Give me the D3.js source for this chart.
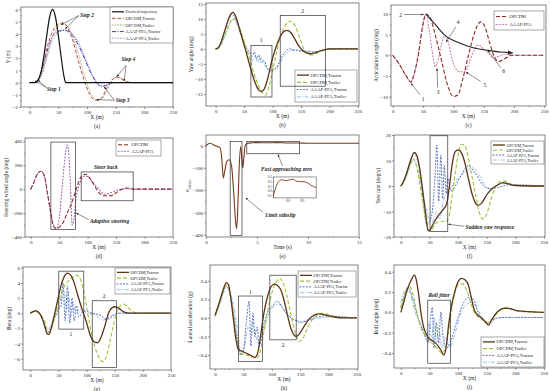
<!DOCTYPE html>
<html><head><meta charset="utf-8">
<script src="https://cdn.jsdelivr.net/npm/d3@7"></script>
<style>body{margin:0;background:#fff}svg{display:block}text{font-family:"Liberation Serif","Times New Roman",serif;fill:#222}</style>
</head><body><svg id="c" width="550" height="391"></svg>
<script>
// ---------------- DATA ----------------
const xTicksM = [0,50,100,150,200,250];
// (a) lateral position
const aDesired = [[0,0],[10,0],[15,0.2],[20,0.9],[25,2.2],[30,3.9],[35,5.4],[40,6],[45,5.4],[50,3.9],[55,2.1],[60,0.5],[63,0],[250,0]];
const aOpcdmTractor = [[0,0],[10,0.05],[20,0.8],[30,2.8],[40,4.2],[50,4.8],[58,4.9],[65,4.6],[75,3.5],[85,1.8],[95,0.2],[105,-1],[115,-1.45],[125,-1.3],[135,-0.4],[145,0.3],[152,0.45],[160,0.3],[170,0.05],[180,0],[250,0]];
const aOpcdmTrailer = [[0,0],[10,0.02],[20,0.5],[30,2.2],[40,3.8],[50,4.6],[58,4.8],[66,4.6],[76,3.7],[86,2.2],[96,0.5],[106,-0.8],[116,-1.4],[126,-1.3],[136,-0.5],[146,0.3],[154,0.5],[162,0.3],[172,0.05],[182,0],[250,0]];
const aAaapTractor = [[0,0],[10,0.05],[20,0.8],[30,2.5],[40,3.8],[50,4.2],[60,4.3],[70,4.1],[80,3.5],[90,2.6],[100,1.5],[110,0.5],[118,-0.1],[126,-0.3],[135,-0.2],[145,0],[250,0]];
const aAaapTrailer = [[0,0],[10,0.02],[20,0.5],[30,2],[40,3.5],[50,4.1],[60,4.3],[70,4.2],[80,3.7],[90,2.8],[100,1.7],[110,0.6],[120,-0.1],[128,-0.3],[138,-0.15],[150,0],[250,0]];
// (b) yaw angle
const bOpcdmTractor = [[0,0],[5,0.5],[10,2.5],[15,5.5],[20,8.5],[25,11],[30,12.2],[35,11],[40,8],[45,4.5],[52,0],[60,-5.5],[68,-10.5],[75,-13.5],[80,-14.2],[85,-13.5],[92,-9.5],[98,-4.5],[105,0],[112,3.5],[118,5.5],[125,6.2],[132,5.5],[140,3],[148,0.5],[155,-0.8],[165,-1.6],[175,-1.3],[185,-0.6],[200,0],[250,0]];
const bOpcdmTrailer = [[0,0],[5,0.3],[10,1.8],[15,4],[20,6.5],[25,8.8],[30,10],[35,9.8],[40,8],[45,5.5],[52,1.5],[60,-3.5],[68,-8.5],[76,-12.5],[82,-14.6],[88,-15.3],[93,-13],[100,-7.5],[106,-2],[112,3],[120,7],[128,9],[133,9.2],[140,7.5],[148,3.5],[155,0],[162,-1.5],[170,-2],[178,-1.4],[190,-0.4],[205,0],[250,0]];
const bAaapTractor = [[0,0],[5,0.5],[10,2.3],[15,5.2],[20,8.3],[25,10.8],[29,11.6],[35,10],[45,5],[55,0],[60,-1],[64,-2.5],[68,-1],[72,-3.5],[76,-2],[80,-4.5],[85,-4],[90,-6],[95,-7.5],[100,-7],[108,-5.8],[115,-3],[122,-1],[130,0],[140,-0.3],[160,-1],[180,-0.8],[200,0],[250,0]];
const bAaapTrailer = [[0,0],[5,0.3],[10,1.5],[20,6],[26,8.8],[32,9.8],[42,6],[52,1],[62,-3],[66,-4],[70,-2.5],[74,-4.5],[78,-2.5],[85,-5],[95,-7],[105,-7],[112,-5],[122,-2],[135,-0.5],[150,-0.5],[175,-1],[200,0],[250,0]];
// (c) articulation angle
const cOpcdm = [[0,0],[10,-2],[20,-4.5],[30,-6.5],[36,-4],[42,0],[48,6],[55,10],[62,9],[70,5],[80,-1],[90,-7],[100,-10],[108,-9.5],[115,-6],[125,0],[135,5.5],[145,8.1],[152,7],[160,3],[168,-0.5],[175,-1.5],[185,-0.8],[195,0],[250,0]];
const cAaap = [[0,0],[10,-2],[20,-4.5],[30,-6.3],[38,-3],[45,3],[50,8],[55,10],[60,6],[65,1],[70,-2.8],[75,-1],[80,2.5],[86,4.8],[92,3],[98,-1],[105,-3.5],[112,-4],[120,-3.8],[128,-1],[135,1.5],[142,2.5],[150,1.5],[158,0.5],[165,-0.5],[175,-0.3],[185,0.2],[200,0],[250,0]];
const cTrendArrow = [[55,10],[70,7.5],[88,4.6],[105,3.3],[121,2.4],[140,1.6],[157,1.2],[178,0.8],[198,0.6]];
// (d) steering wheel angle
const dOpcdm = [[0,0],[5,50],[12,130],[18,150],[24,110],[30,-50],[35,-190],[40,-310],[46,-330],[52,-310],[58,-270],[64,-200],[70,-140],[76,-60],[82,30],[88,100],[96,125],[104,90],[112,30],[120,-30],[130,-55],[140,-55],[150,-30],[160,0],[170,10],[180,0],[250,0]];
const dAaap = [[0,0],[5,50],[12,130],[18,150],[24,110],[30,-50],[35,-190],[40,-300],[45,-330],[50,-250],[55,0],[60,250],[64,370],[67,300],[70,0],[73,-300],[76,-250],[79,-100],[83,0],[88,70],[95,110],[102,100],[110,50],[118,10],[125,-30],[132,-42],[140,-30],[150,-10],[160,0],[170,5],[180,0],[250,0]];
// (e) offset vs time
const eOffset = [[0,0],[0.4,10],[0.9,-1],[1.4,-12],[1.55,-60],[1.7,-146],[1.85,-110],[2.05,-70],[2.27,-64],[2.5,-90],[2.7,-200],[2.9,-340],[3.0,-373],[3.1,-300],[3.25,-100],[3.4,-5],[3.5,-50],[3.6,-101],[3.7,-60],[3.85,0],[4.1,10],[4.5,12],[5,13],[6,12],[7,13],[8,11],[9,11],[10,10],[12,10],[15,10]];
const eInset = [[4,-0.1],[4.3,0.05],[4.7,0.2],[5.2,0.24],[5.8,0.22],[6.3,0.24],[6.8,0.25],[7.2,0.21],[7.8,0.2],[8.3,0.2],[8.8,0.17],[9.3,0.12],[10,0.07]];
// (f) yaw rate
const fOpcdmTractor = [[0,0],[5,2],[10,5],[17,10],[23.5,13.2],[28,12],[32,8],[36,2],[40,-5],[44,-12],[47,-17],[50,-17.6],[54,-16],[60,-13.5],[66,-11.5],[74,-9.2],[80,-7],[85,0],[90,9],[95,13.5],[100,14.2],[106,13],[112,9],[118,3],[125,-3.5],[130,-6.5],[135,-7.6],[142,-6.5],[150,-3.5],[160,-1],[170,0.5],[179,1.3],[188,0.8],[200,0.2],[250,0]];
const fOpcdmTrailer = [[0,0],[5,1.5],[10,4],[15,7.5],[21,10.8],[26,9],[30,5],[35,-2],[40,-9],[45,-15],[49,-17.4],[54,-17],[60,-15],[66,-14],[72,-13.8],[78,-14],[84,-12],[90,-3],[95,5],[100,12],[106,16.4],[112,15.8],[118,11],[125,3],[132,-5],[138,-11],[144,-12.9],[150,-11],[158,-5],[165,-0.5],[172,1.5],[180,2],[190,1],[205,0.2],[250,0]];
const fAaapTractor = [[0,0],[5,2],[10,5],[17,10],[23,12.8],[28,11],[33,6],[38,-3],[45,-15],[50,-14],[55,-10],[60,5],[63,16],[66,-6],[70,12],[73,-5],[76,8],[79,-3],[82,3],[88,-2],[95,0],[105,4],[118,7.9],[130,5],[145,0],[155,-1],[170,-0.5],[190,0.5],[250,0]];
const fAaapTrailer = [[0,0],[5,1.5],[10,4],[16,8],[22,10],[30,6],[40,-5],[48,-12],[55,-14],[62,-10],[68,-13],[74,-6],[80,-3],[90,0],[100,3],[115,6],[126,7.2],[135,5],[145,1],[155,-1],[165,0],[180,1],[195,0.3],[250,0]];
// (g) beta
const gOpcdmTractor = [[0,0],[5,0.2],[10,0.3],[15,0.1],[20,-0.5],[25,-1.5],[30,-2.7],[33,-2.8],[37,-2],[42,-0.5],[48,1.5],[54,3.5],[60,4.8],[66,5.3],[72,5],[78,4],[85,2.2],[92,0.5],[99,-1],[106,-2.8],[112,-3.7],[119,-3.9],[125,-3.3],[132,-1.8],[139,0],[145,0.7],[151,0.85],[158,0.6],[165,0.2],[175,0],[250,0]];
const gOpcdmTrailer = [[0,0],[5,0.15],[10,0.2],[15,0.05],[20,-0.3],[25,-1],[30,-2.2],[34,-2.5],[40,-1.5],[46,0.2],[52,2],[60,3.5],[68,4.3],[76,4.8],[84,5],[90,4.3],[96,2.5],[102,0],[108,-2.5],[115,-4.5],[122,-5.8],[129,-6.4],[136,-5.5],[142,-3.5],[148,-1.5],[154,0.2],[160,1],[166,1.2],[172,0.9],[180,0.3],[190,0],[250,0]];
const gAaapTractor = [[0,0],[5,0.2],[10,0.3],[20,-0.5],[30,-2.5],[35,-2.3],[42,-0.8],[50,0.5],[55,1],[58,4],[62,-1],[66,3.6],[70,-1.3],[74,2],[78,-1],[82,1],[86,-0.5],[95,0.3],[110,0],[125,-0.3],[135,-0.8],[145,-0.5],[155,0],[250,0]];
const gAaapTrailer = [[0,0],[10,0.3],[20,-0.4],[30,-2.3],[40,-1],[50,0.5],[56,2.5],[60,3],[64,0.5],[68,2.8],[72,-0.5],[76,1.5],[80,0],[88,0.5],[100,0],[115,-0.2],[130,-0.9],[145,-0.3],[160,0],[250,0]];
// (h) lateral acceleration
const hOpcdmTractor = [[0,0.03],[5,0.12],[10,0.22],[15,0.32],[20,0.38],[24,0.35],[28,0.2],[32,0],[36,-0.2],[41,-0.34],[48,-0.36],[55,-0.38],[62,-0.4],[70,-0.425],[75,-0.38],[80,-0.2],[86,0.05],[92,0.22],[98,0.33],[104,0.364],[110,0.35],[116,0.3],[122,0.18],[128,0.02],[134,-0.12],[140,-0.19],[143,-0.2],[150,-0.16],[158,-0.08],[166,-0.01],[175,0.03],[184,0.043],[195,0.03],[210,0.01],[225,0],[250,0]];
const hOpcdmTrailer = [[0,0.02],[5,0.1],[10,0.2],[15,0.3],[20,0.35],[25,0.3],[30,0.12],[35,-0.1],[40,-0.28],[45,-0.38],[55,-0.4],[65,-0.42],[75,-0.43],[80,-0.35],[86,-0.15],[92,0.05],[98,0.22],[104,0.34],[110,0.41],[114,0.425],[120,0.38],[126,0.25],[132,0.08],[138,-0.08],[144,-0.2],[149,-0.254],[155,-0.22],[162,-0.12],[170,-0.03],[180,0.03],[190,0.05],[200,0.035],[215,0.01],[230,0],[250,0]];
const hAaapTractor = [[0,0.02],[10,0.2],[20,0.35],[30,0.15],[40,-0.25],[45,-0.4],[50,-0.35],[55,-0.05],[60,0.18],[63,-0.3],[67,0.05],[70,-0.2],[74,-0.1],[78,-0.3],[85,-0.1],[92,0.05],[100,0.12],[110,0.18],[120,0.1],[130,0.02],[140,-0.02],[150,-0.05],[165,-0.02],[190,0.02],[250,0]];
const hAaapTrailer = [[0,0.02],[10,0.18],[20,0.33],[30,0.2],[40,-0.15],[45,-0.38],[52,-0.3],[58,-0.1],[62,-0.15],[66,-0.05],[72,-0.2],[78,-0.28],[85,-0.15],[92,0],[100,0.1],[112,0.15],[125,0.05],[140,-0.02],[155,-0.04],[170,-0.02],[200,0.01],[250,0]];
// (i) roll angle
const iOpcdmTractor = [[0,0],[5,0.1],[10,0.2],[15,0.28],[20,0.34],[23.5,0.367],[27,0.32],[31,0.18],[35,0],[40,-0.15],[45,-0.22],[50,-0.26],[55,-0.28],[60,-0.3],[65,-0.33],[70,-0.37],[75,-0.42],[79,-0.35],[83,-0.15],[88,0.05],[94,0.2],[100,0.3],[106,0.334],[112,0.32],[118,0.27],[123,0.15],[128,0.03],[135,-0.03],[140,-0.05],[147,-0.09],[153,-0.125],[158,-0.08],[165,-0.02],[172,0.02],[180,0.04],[188,0.04],[200,0.02],[215,0.01],[250,0]];
const iOpcdmTrailer = [[0,0.05],[5,0.15],[10,0.22],[15,0.26],[20,0.2],[25,0.08],[30,-0.05],[35,-0.15],[42,-0.22],[50,-0.28],[58,-0.32],[65,-0.36],[72,-0.4],[78,-0.36],[83,-0.2],[88,0],[94,0.18],[100,0.27],[108,0.28],[115,0.22],[122,0.1],[128,0],[135,-0.04],[145,-0.08],[152,-0.1],[160,-0.06],[168,-0.01],[176,0.03],[185,0.05],[195,0.03],[210,0.01],[250,0]];
const iAaapTractor = [[0,0.05],[8,0.2],[12,0.25],[20,0.15],[30,-0.05],[40,-0.2],[48,-0.3],[52,-0.05],[55,0.05],[58,-0.35],[62,-0.1],[66,-0.3],[70,0],[74,-0.25],[80,-0.35],[86,-0.3],[92,-0.2],[100,-0.05],[110,0.1],[120,0.15],[128,0.12],[135,0],[145,-0.08],[155,-0.1],[165,-0.06],[180,-0.05],[250,-0.05]];
const iAaapTrailer = [[0,0.1],[8,0.22],[15,0.2],[25,0],[35,-0.12],[45,-0.25],[50,-0.1],[54,-0.28],[58,-0.05],[62,-0.3],[66,-0.15],[72,-0.35],[78,-0.25],[85,-0.35],[95,-0.2],[105,0],[115,0.08],[125,0.1],[135,0.02],[145,-0.07],[155,-0.12],[165,-0.06],[180,-0.05],[250,-0.05]];

// ---------------- STYLES ----------------
const S = {
  tracSolid:{c:"#5e3317",w:1.3,d:null},
  trailDash:{c:"#9cc43c",w:1.1,d:"4,2"},
  aTracDot:{c:"#4a62b8",w:1,d:"1,2.2"},
  aTrailDD:{c:"#8ab8e2",w:0.9,d:"4,1.4,1,1.4"},
  desired:{c:"#111",w:1.2,d:null},
  redDash:{c:"#c24a3c",w:1,d:"3.5,2"},
  greyDot:{c:"#a7ae8c",w:1,d:"1,1.8"},
  blueDD:{c:"#3a3ab4",w:1,d:"4,1.4,1,1.4"},
  lilacDot:{c:"#a89ccf",w:1,d:"1,1.8"},
  darkRedDash:{c:"#8e2c25",w:1.1,d:"4,2"},
  pinkDot:{c:"#c47ab3",w:1.1,d:"1,2.2"},
  purpleDot:{c:"#9a65b0",w:1.1,d:"1,2.2"},
  eLine:{c:"#7a3a1c",w:1.1,d:null}
};
const L4 = ["OPCDM,Tractor","OPCDM,Trailer","AAAP-PFA,Tractor","AAAP-PFA,Trailer"];

const svg = d3.select("#c");
const defs = svg.append("defs");
defs.append("marker").attr("id","arr").attr("viewBox","0 0 10 10").attr("refX",9).attr("refY",5)
  .attr("markerWidth",5).attr("markerHeight",5).attr("orient","auto")
  .append("path").attr("d","M0,1L10,5L0,9z").attr("fill","#222");

function panel(o){
  const x = d3.scaleLinear().domain(o.xd).range([o.l,o.r]);
  const y = d3.scaleLinear().domain(o.yd).range([o.b,o.t]);
  const g = svg.append("g");
  const cid = "clip"+o.tag;
  defs.append("clipPath").attr("id",cid).append("rect")
    .attr("x",o.l).attr("y",o.t).attr("width",o.r-o.l).attr("height",o.b-o.t);
  const fs = o.fs||5;
  const ax = g.append("g").attr("transform",`translate(0,${o.b})`)
    .call(d3.axisBottom(x).tickValues(o.xt).tickSize(2).tickPadding(1).tickFormat(o.xf||d3.format("d")));
  const ay = g.append("g").attr("transform",`translate(${o.l},0)`)
    .call(d3.axisLeft(y).tickValues(o.yt).tickSize(2).tickPadding(1).tickFormat(o.yf||d3.format("d")));
  [ax,ay].forEach(a=>{a.select(".domain").remove();
    a.selectAll("line").attr("stroke","#333").attr("stroke-width",0.5);
    a.selectAll("text").attr("font-size",fs).attr("font-family","Liberation Serif").attr("fill","#222");});
  if(!o.noMinor){
    const mx=[]; for(let i=0;i<o.xt.length-1;i++) mx.push((o.xt[i]+o.xt[i+1])/2);
    const my=[]; for(let i=0;i<o.yt.length-1;i++) my.push((o.yt[i]+o.yt[i+1])/2);
    g.selectAll(null).data(mx).join("line").attr("x1",d=>x(d)).attr("x2",d=>x(d)).attr("y1",o.b).attr("y2",o.b+1).attr("stroke","#333").attr("stroke-width",0.4);
    g.selectAll(null).data(my).join("line").attr("y1",d=>y(d)).attr("y2",d=>y(d)).attr("x1",o.l).attr("x2",o.l-1).attr("stroke","#333").attr("stroke-width",0.4);
  }
  g.append("rect").attr("x",o.l).attr("y",o.t).attr("width",o.r-o.l).attr("height",o.b-o.t)
    .attr("fill","none").attr("stroke","#333").attr("stroke-width",0.6);
  const line = d3.line().x(d=>x(d[0])).y(d=>y(d[1])).curve(d3.curveMonotoneX);
  const sg = g.append("g").attr("clip-path",`url(#${cid})`);
  o.series.forEach(s=>{
    sg.append("path").attr("d",line(s.data)).attr("fill","none").attr("stroke",s.st.c)
      .attr("stroke-width",s.st.w).attr("stroke-dasharray",s.st.d).attr("stroke-linecap",s.st.d&&s.st.d.startsWith("1,")?"round":"butt")
      .attr("stroke-linejoin","round");
  });
  const cx=(o.l+o.r)/2;
  g.append("text").attr("x",cx).attr("y",o.b+12).attr("text-anchor","middle").attr("font-size",5.5).text(o.xlab);
  g.append("text").attr("x",cx).attr("y",o.b+20.5).attr("text-anchor","middle").attr("font-size",5.5).text("("+o.tag+")");
  const yl = g.append("text").attr("transform",`translate(${o.l-o.yo},${(o.t+o.b)/2}) rotate(-90)`)
    .attr("text-anchor","middle").attr("font-size",5.5);
  if(o.ylabSub){ yl.text(o.ylab).append("tspan").attr("dy",1.5).attr("font-size",4).text(o.ylabSub);} else yl.text(o.ylab);
  if(o.legend){
    const lg=o.legend, n=lg.items.length, lh=(lg.h-3)/n;
    g.append("rect").attr("x",lg.x).attr("y",lg.y).attr("width",lg.w).attr("height",lg.h)
      .attr("fill","#fff").attr("stroke","#555").attr("stroke-width",0.5);
    lg.items.forEach((it,i)=>{
      const yy=lg.y+1.5+lh*(i+0.5);
      g.append("line").attr("x1",lg.x+2).attr("x2",lg.x+14).attr("y1",yy).attr("y2",yy)
        .attr("stroke",it.st.c).attr("stroke-width",it.st.w).attr("stroke-dasharray",it.st.d)
        .attr("stroke-linecap",it.st.d&&it.st.d.startsWith("1,")?"round":"butt");
      g.append("text").attr("x",lg.x+15.5).attr("y",yy+1.6).attr("font-size",lg.fs||4.6).text(it.label);
    });
  }
  return {x,y,g};
}
function box(p,x0,x1,y0,y1){
  p.g.append("rect").attr("x",p.x(x0)).attr("y",p.y(y0)).attr("width",p.x(x1)-p.x(x0)).attr("height",p.y(y1)-p.y(y0))
    .attr("fill","none").attr("stroke","#333").attr("stroke-width",0.7);
}
function txt(p,x,y,t,opt={}){
  p.g.append("text").attr("x",p.x(x)).attr("y",p.y(y)).attr("text-anchor",opt.a||"middle")
    .attr("font-size",opt.fs||5.5).attr("font-weight",opt.b?"bold":null).attr("font-style",opt.b?"italic":null).text(t);
}
function arrow(p,x0,y0,x1,y1){
  p.g.append("line").attr("x1",p.x(x0)).attr("y1",p.y(y0)).attr("x2",p.x(x1)).attr("y2",p.y(y1))
    .attr("stroke","#222").attr("stroke-width",0.5).attr("marker-end","url(#arr)");
}
const items4 = [S.tracSolid,S.trailDash,S.aTracDot,S.aTrailDD].map((st,i)=>({st,label:L4[i]}));

// (a)
const pa = panel({tag:"a",l:21,t:7,r:173,b:107,xd:[-15,250],yd:[-2,6.2],xt:xTicksM,yt:[-2,-1,0,1,2,3,4,5,6],
  xlab:"X (m)",ylab:"Y (m)",yo:11,
  series:[{data:aAaapTrailer,st:S.lilacDot},{data:aAaapTractor,st:S.blueDD},{data:aOpcdmTrailer,st:S.greyDot},{data:aOpcdmTractor,st:S.redDash},{data:aDesired,st:S.desired}],
  legend:{x:110,y:7,w:63,h:36,fs:4.4,items:[{st:S.desired,label:"Desired trajectory"},{st:S.redDash,label:"OPCDM,Tractor"},{st:S.greyDot,label:"OPCDM,Trailer"},{st:S.blueDD,label:"AAAP-PFA,Tractor"},{st:S.lilacDot,label:"AAAP-PFA,Trailer"}]}});
txt(pa,30,-0.7,"Step 1",{b:1,a:"start"}); arrow(pa,29,-0.4,10,0.15); arrow(pa,29,-0.4,15,0.2);
txt(pa,88,5.4,"Step 2",{b:1,a:"start"}); arrow(pa,86,5.5,55,4.75); arrow(pa,86,5.5,62,4.4);
txt(pa,150,-1.6,"Step 3",{b:1,a:"start"}); arrow(pa,148,-1.45,117,-1.4); arrow(pa,148,-1.45,130,-0.35);
txt(pa,160,1.8,"Step 4",{b:1,a:"start"}); arrow(pa,168,1.4,152,0.5); arrow(pa,168,1.4,165,0.15);

// (b)
const pb = panel({tag:"b",l:206,t:3,r:359,b:106,xd:[-17,252],yd:[-19,15.3],xt:xTicksM,yt:[-15,-10,-5,0,5,10,15],
  xlab:"X (m)",ylab:"Yaw angle (deg)",yo:13,
  series:[{data:bAaapTrailer,st:S.aTrailDD},{data:bAaapTractor,st:S.aTracDot},{data:bOpcdmTrailer,st:S.trailDash},{data:bOpcdmTractor,st:S.tracSolid}],
  legend:{x:295,y:70,w:62,h:32,items:items4}});
box(pb,62,99,1.2,-16); txt(pb,80,2.2,"1");
box(pb,113.5,193,11.1,-12.4); txt(pb,153,12.1,"2");

// (c)
const pc = panel({tag:"c",l:391,t:5,r:546,b:106,xd:[-3,253],yd:[-12.3,12.2],xt:xTicksM,yt:[-10,-5,0,5,10],
  xlab:"X (m)",ylab:"Articulation angle (deg)",yo:13,
  series:[{data:cAaap,st:S.pinkDot},{data:cOpcdm,st:S.darkRedDash}],
  legend:{x:494,y:11,w:50,h:19,items:[{st:S.darkRedDash,label:"OPCDM"},{st:S.pinkDot,label:"AAAP-PFA"}]}});
pc.g.append("path").attr("d",d3.line().x(d=>pc.x(d[0])).y(d=>pc.y(d[1])).curve(d3.curveMonotoneX)(cTrendArrow))
  .attr("fill","none").attr("stroke","#222").attr("stroke-width",1.1).attr("marker-end","url(#arr)");
txt(pc,50,-11,"1"); arrow(pc,45,-9.6,30,-6.8);
txt(pc,13,9.3,"2"); arrow(pc,19,9.9,51,9.9);
txt(pc,75,-9.3,"3"); arrow(pc,74,-7.8,73,-3.2);
txt(pc,108,7.6,"4"); arrow(pc,104,6.9,88,3.2);
txt(pc,152,-7.6,"5"); arrow(pc,145,-6.3,121,-4.1);
txt(pc,183,-4.4,"6"); arrow(pc,178,-3,157,1.2);

// (d)
const pd = panel({tag:"d",l:25,t:138,r:173,b:237,xd:[-10,250],yd:[-400,428],xt:xTicksM,yt:[-400,-200,0,200,400],
  xlab:"X (m)",ylab:"Steering wheel angle (deg)",yo:17,
  series:[{data:dAaap,st:S.purpleDot},{data:dOpcdm,st:S.darkRedDash}],
  legend:{x:116,y:140,w:45,h:16,items:[{st:S.darkRedDash,label:"OPCDM"},{st:S.purpleDot,label:"AAAP-PFA"}]}});
box(pd,88.7,180,144,-97); txt(pd,132,170,"Steer back",{b:1});
box(pd,35.5,78.7,394,-336); txt(pd,104,-285,"Adaptive steering",{b:1,a:"start"}); arrow(pd,102,-255,80,-200);

// (e)
const pe = panel({tag:"e",l:206,t:135,r:359,b:237,xd:[0,15],yd:[-410,47],xt:[0,5,10,15],yt:[-400,-300,-200,-100,0],
  xlab:"Time (s)",ylab:"e",ylabSub:"offset",yo:17,
  series:[{data:eOffset,st:S.eLine}]});
box(pe,2.37,3.53,18,-403); txt(pe,5.8,-322,"Limit sideslip",{b:1,a:"start"}); arrow(pe,5.6,-300,3.9,-235);
box(pe,4,9.17,18,-37); txt(pe,5.4,-113,"Fast approaching zero",{b:1,a:"start"}); arrow(pe,7.5,-92,7.06,-40);
const ix = d3.scaleLinear().domain([4,10]).range([pe.x(6.6),pe.x(10.8)]);
const iy = d3.scaleLinear().domain([-0.15,0.3]).range([pe.y(-235),pe.y(-141)]);
const ig = pe.g.append("g");
ig.append("rect").attr("x",ix(4)).attr("y",iy(0.3)).attr("width",ix(10)-ix(4)).attr("height",iy(-0.15)-iy(0.3)).attr("fill","#fff").attr("stroke","#333").attr("stroke-width",0.5);
ig.append("path").attr("d",d3.line().x(d=>ix(d[0])).y(d=>iy(d[1])).curve(d3.curveMonotoneX)(eInset)).attr("fill","none").attr("stroke",S.eLine.c).attr("stroke-width",0.9);
const iax=ig.append("g").attr("transform",`translate(0,${iy(-0.15)})`).call(d3.axisBottom(ix).tickValues([6,8]).tickSize(1).tickPadding(0.5));
const iay=ig.append("g").attr("transform",`translate(${ix(4)},0)`).call(d3.axisLeft(iy).tickValues([-0.1,0,0.1,0.2,0.3]).tickSize(1).tickPadding(0.5).tickFormat(d3.format(".1f")));
[iax,iay].forEach(a=>{a.select(".domain").remove();a.selectAll("line").attr("stroke","#333").attr("stroke-width",0.4);a.selectAll("text").attr("font-size",3).attr("font-family","Liberation Serif");});

// (f)
const pf = panel({tag:"f",l:394,t:135,r:545,b:237,xd:[-12,252],yd:[-20,20],xt:xTicksM,yt:[-20,-10,0,10,20],
  xlab:"X (m)",ylab:"Yaw rate (deg/s)",yo:14,
  series:[{data:fAaapTrailer,st:S.aTrailDD},{data:fAaapTractor,st:S.aTracDot},{data:fOpcdmTrailer,st:S.trailDash},{data:fOpcdmTractor,st:S.tracSolid}],
  legend:{x:491,y:141,w:53,h:23,fs:4.1,items:items4}});
box(pf,51,82,19.7,-17.8); txt(pf,113,-17,"Sudden yaw response",{b:1,a:"start"}); arrow(pf,111,-15.8,83,-15);

// (g)
const pg = panel({tag:"g",l:23,t:267,r:171,b:370,xd:[-13,250],yd:[-7.5,6.1],xt:xTicksM,yt:[-6,-4,-2,0,2,4,6],
  xlab:"X (m)",ylab:"Beta (deg)",yo:12,
  series:[{data:gAaapTrailer,st:S.aTrailDD},{data:gAaapTractor,st:S.aTracDot},{data:gOpcdmTrailer,st:S.trailDash},{data:gOpcdmTractor,st:S.tracSolid}],
  legend:{x:115,y:268,w:55,h:26,fs:4.2,items:items4}});
box(pg,50.6,95,5.55,-2.1); txt(pg,72,-3,"1");
box(pg,110,153,1.64,-7.16); txt(pg,131,2,"2");

// (h)
const ph = panel({tag:"h",l:210,t:265,r:358,b:369,xd:[-9,252],yd:[-0.55,0.57],xt:xTicksM,yt:[-0.4,-0.2,0,0.2,0.4],yf:d3.format(".1f"),
  xlab:"X (m)",ylab:"Lateral acceleration (g)",yo:18,
  series:[{data:hAaapTrailer,st:S.aTrailDD},{data:hAaapTractor,st:S.aTracDot},{data:hOpcdmTrailer,st:S.trailDash},{data:hOpcdmTractor,st:S.tracSolid}],
  legend:{x:298,y:271,w:58,h:26,fs:4.3,items:items4}});
box(ph,41,83.6,0.236,-0.468); txt(ph,62,0.26,"1");
box(ph,96.5,143,0.46,-0.236); txt(ph,120,-0.31,"2");

// (i)
const pi = panel({tag:"i",l:394,t:265,r:545,b:368,xd:[-12,252],yd:[-0.547,0.466],xt:xTicksM,yt:[-0.4,-0.2,0,0.2,0.4],yf:d3.format(".1f"),
  xlab:"X (m)",ylab:"Roll angle (deg)",yo:16,
  series:[{data:iAaapTrailer,st:S.aTrailDD},{data:iAaapTractor,st:S.aTracDot},{data:iOpcdmTrailer,st:S.trailDash},{data:iOpcdmTractor,st:S.tracSolid}],
  legend:{x:481,y:337,w:63,h:30,items:items4}});
box(pi,47,87,0.12,-0.5); txt(pi,67,0.15,"Roll jitter",{b:1});
</script></body></html>
